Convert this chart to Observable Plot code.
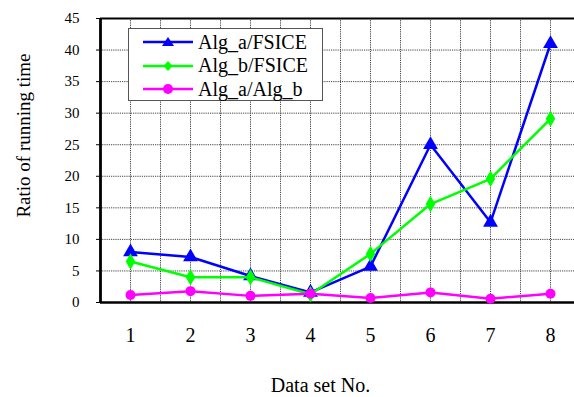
<!DOCTYPE html>
<html>
<head>
<meta charset="utf-8">
<script src="https://cdn.jsdelivr.net/npm/d3@7"></script>
<script src="https://cdn.jsdelivr.net/npm/@observablehq/plot@0.6"></script>
<style>
  html, body { margin: 0; padding: 0; background: #fff; }
  #wrap { position: relative; width: 574px; height: 397px; overflow: hidden; }
  #legend { position: absolute; left: 128px; top: 28px; width: 195px; height: 73px;
    border: 1px solid #555; background: #fff; box-sizing: border-box;
    font-family: "Liberation Serif", "Times New Roman", serif; font-size: 20px; color: #000; }
  .row { position: absolute; left: 0; height: 24px; display: flex; align-items: center; white-space: nowrap; }
  .row svg { margin-left: 14px; }
  .row span { margin-left: 5px; }
</style>
</head>
<body>
<div id="wrap"><div id="legend"></div></div>
<script>
const datasets = [1, 2, 3, 4, 5, 6, 7, 8];
const algaFsice = [8.0, 7.2, 4.2, 1.6, 5.7, 25.0, 12.7, 41.0];
const algbFsice = [6.5, 4.0, 4.0, 1.3, 7.7, 15.6, 19.6, 29.1];
const algaAlgb = [1.2, 1.8, 1.05, 1.4, 0.7, 1.6, 0.6, 1.4];
const seriesNames = ["Alg_a/FSICE", "Alg_b/FSICE", "Alg_a/Alg_b"];
const seriesColors = ["#0000ff", "#00ff00", "#ff00ff"];
const seriesSymbols = ["triangle", "diamond", "circle"];
const yTicks = [0, 5, 10, 15, 20, 25, 30, 35, 40, 45];

const allValues = [algaFsice, algbFsice, algaAlgb];
const rows = [];
allValues.forEach((vals, si) => vals.forEach((v, i) => rows.push({x: datasets[i], y: v, s: seriesNames[si]})));

const gridXs = d3.range(1, 9.0, 0.5);
const font = '"Liberation Serif", "Times New Roman", serif';

const marks = [
  Plot.gridY(yTicks.filter(d => d > 0), {stroke: "#444", strokeOpacity: 1, strokeDasharray: "1.2,1", strokeWidth: 1}),
  Plot.gridX(gridXs, {stroke: "#444", strokeOpacity: 1, strokeDasharray: "1.2,1", strokeWidth: 1}),
  Plot.axisY(yTicks, {tickSize: 4, tickPadding: 17, fontSize: 15, label: null, fontFamily: font}),
  Plot.axisX(datasets, {tickSize: 0, tickPadding: 25, fontSize: 20, label: null, fontFamily: font}),
  Plot.ruleX([0.5], {stroke: "#000", strokeWidth: 2.8}),
  Plot.ruleY([0], {stroke: "#000", strokeWidth: 2.5}),
  Plot.ruleY([45], {stroke: "#000", strokeWidth: 2}),
];
seriesNames.forEach((name, si) => {
  const data = rows.filter(r => r.s === name);
  marks.push(Plot.line(data, {x: "x", y: "y", stroke: seriesColors[si], strokeWidth: 2.5}));
  marks.push(Plot.dot(data, {x: "x", y: "y", fill: seriesColors[si], stroke: "none",
    symbol: seriesSymbols[si], r: si === 0 ? 5.5 : 5}));
});
marks.push(Plot.text(["Data set No."], {frameAnchor: "bottom", dy: 89, dx: -17, fontSize: 20, fontFamily: font, fill: "#000"}));
marks.push(Plot.text(["Ratio of running time"], {frameAnchor: "left", textAnchor: "middle", rotate: -90, dx: -77, dy: -25, fontSize: 19, fontFamily: font, fill: "#000"}));

const chart = Plot.plot({
  width: 574,
  height: 397,
  marginLeft: 100,
  marginRight: 0,
  marginTop: 18,
  marginBottom: 95,
  x: {domain: [0.5, 8.4]},
  y: {domain: [0, 45]},
  style: {fontFamily: font, color: "#000", background: "#fff", overflow: "visible"},
  marks
});
document.getElementById("wrap").prepend(chart);

const legend = document.getElementById("legend");
seriesNames.forEach((name, si) => {
  const row = document.createElement("div");
  row.className = "row";
  row.style.top = (1 + si * 23.5) + "px";
  let sym = "";
  if (si === 0) sym = '<polygon points="25,1 31,10 19,10" fill="' + seriesColors[si] + '"/>';
  else if (si === 1) sym = '<polygon points="25,1 29.5,6 25,11 20.5,6" fill="' + seriesColors[si] + '"/>';
  else sym = '<circle cx="25" cy="6" r="5" fill="' + seriesColors[si] + '"/>';
  row.innerHTML = '<svg width="50" height="12"><line x1="0" x2="50" y1="6" y2="6" stroke="' + seriesColors[si] + '" stroke-width="2.5"/>' + sym + '</svg><span>' + name + '</span>';
  legend.appendChild(row);
});
</script>
</body>
</html>
